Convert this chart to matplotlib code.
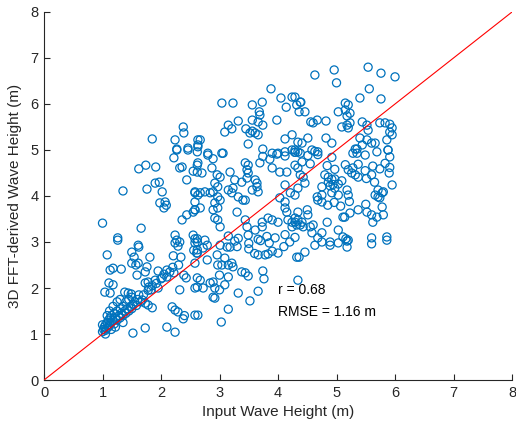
import numpy as np
import matplotlib
matplotlib.use("Agg")
import matplotlib.pyplot as plt

plt.rcParams["font.family"] = ["Liberation Sans", "DejaVu Sans"]

# points, grouped by region of the plot
# diagonal cluster near the 1:1 line
x_diag = [1.0, 1.02, 1.03, 1.05, 1.05, 1.07, 1.08, 1.1, 1.1, 1.12,
          1.13, 1.15, 1.15, 1.18, 1.2, 1.2, 1.22, 1.25, 1.25, 1.28,
          1.3, 1.3, 1.32, 1.35, 1.35, 1.38, 1.4, 1.4, 1.42, 1.45,
          1.45, 1.48, 1.5, 1.5, 1.52, 1.55, 1.58, 1.6, 1.62, 1.65,
          1.18, 1.25, 1.12, 1.3, 1.08, 1.0, 1.05, 1.15, 1.22, 1.35,
          1.7, 1.78, 1.85, 1.92, 2.0, 2.05, 2.15, 2.2, 2.3]
y_diag = [1.05, 1.1, 1.15, 1.08, 1.2, 1.12, 1.25, 1.15, 1.3, 1.2,
          1.35, 1.25, 1.4, 1.3, 1.22, 1.45, 1.35, 1.3, 1.5, 1.4,
          1.35, 1.55, 1.45, 1.4, 1.6, 1.5, 1.45, 1.7, 1.55, 1.5,
          1.75, 1.6, 1.55, 1.8, 1.65, 1.7, 1.62, 1.75, 1.85, 1.7,
          1.6, 1.7, 1.5, 1.75, 1.4, 1.2, 1.0, 1.1, 1.15, 1.25,
          1.85, 1.95, 2.05, 2.1, 2.2, 2.3, 2.35, 2.45, 2.5]

# lower left (x 1 - 2.6, y 1 - 3)
x_lowleft = [1.26, 1.62, 2.24, 2.29, 2.58, 1.08, 1.50, 1.54, 1.81, 2.21,
             2.34, 2.56, 2.61, 1.13, 1.18, 1.32, 1.50, 1.57, 1.61, 1.76,
             1.73, 1.59, 1.95, 2.10, 2.22, 2.39, 2.43, 2.58, 2.62, 2.62,
             1.11, 1.18, 1.04, 1.13, 1.38, 1.44, 1.49, 1.73, 1.78, 1.79,
             1.83, 1.90, 2.02, 2.10, 1.95, 2.32, 2.58, 1.68, 1.73, 1.78,
             1.85, 2.19, 2.24, 2.29, 2.38, 2.40, 2.58, 1.52, 1.73, 2.10,
             2.24]
y_lowleft = [3.04, 2.89, 2.98, 2.91, 2.98, 2.72, 2.78, 2.67, 2.67, 2.70,
             2.67, 2.82, 2.76, 2.39, 2.43, 2.41, 2.54, 2.50, 2.54, 2.46,
             2.35, 2.28, 2.37, 2.39, 2.33, 2.28, 2.22, 2.54, 2.22, 2.02,
             2.11, 2.07, 1.91, 1.89, 1.91, 1.89, 1.87, 2.11, 2.13, 2.02,
             1.96, 2.17, 2.22, 2.24, 2.00, 1.96, 2.00, 1.74, 1.67, 1.63,
             1.57, 1.59, 1.52, 1.48, 1.33, 1.40, 1.41, 1.02, 1.13, 1.15,
             1.04]

# lower middle (x 2.6 - 4.3, y 1.2 - 3)
x_lowmid = [2.79, 2.72, 2.62, 3.01, 3.13, 3.18, 3.26, 3.50, 3.70, 3.85,
            2.62, 2.79, 2.96, 2.97, 3.09, 3.04, 3.15, 3.21, 3.23, 3.66,
            3.78, 3.83, 4.00, 4.32, 3.00, 3.15, 3.38, 3.44, 3.49, 3.74,
            3.76, 2.67, 2.84, 2.89, 2.72, 2.92, 3.09, 3.00, 2.89, 2.92,
            3.32, 3.66, 3.52, 3.15, 2.63, 3.03,
            4.36, 4.46, 4.63, 4.75, 4.89, 5.03, 5.18, 5.18, 5.60, 5.86,
            4.34, 3.30, 3.50, 3.60, 3.90, 4.10, 4.20]
y_lowmid = [2.93, 2.87, 2.76, 2.93, 2.89, 2.89, 3.02, 2.97, 3.03, 2.98,
            2.83, 2.61, 2.72, 2.50, 2.65, 2.50, 2.50, 2.54, 2.46, 2.72,
            2.72, 2.74, 2.76, 2.67, 2.28, 2.24, 2.35, 2.33, 2.26, 2.37,
            2.20, 2.17, 2.11, 2.13, 2.00, 2.00, 2.07, 1.96, 1.80, 1.78,
            1.89, 1.93, 1.72, 1.54, 1.41, 1.26,
            2.67, 2.78, 2.93, 3.00, 2.93, 2.98, 2.89, 3.02, 2.96, 3.04,
            2.17, 2.90, 2.85, 2.75, 2.80, 2.90, 3.00]

# upper left (x 1 - 2.6, y 3 - 5)
x_upleft = [2.27, 2.46, 2.62, 2.22, 1.62, 1.74, 1.91, 2.32, 2.36, 2.55,
            2.62, 2.44, 1.35, 1.76, 1.90, 1.97, 2.02, 1.98, 2.07, 2.09,
            2.05, 2.58, 2.63, 2.58, 2.44, 2.55, 2.58, 2.36, 1.00, 1.66,
            1.26, 2.24, 2.27, 2.32, 2.55, 2.62, 1.61]
y_upleft = [5.00, 5.00, 4.96, 4.83, 4.59, 4.67, 4.63, 4.61, 4.63, 4.54,
            4.67, 4.35, 4.11, 4.15, 4.28, 4.30, 4.09, 3.85, 3.87, 3.80,
            3.74, 4.07, 4.02, 3.87, 3.59, 3.65, 3.70, 3.48, 3.41, 3.30,
            3.09, 3.15, 3.04, 3.00, 3.15, 3.07, 2.93]

# top band (y above 4.9)
x_top = [2.38, 2.39, 1.85, 2.24, 2.27, 2.46, 2.63, 2.63, 3.88, 3.04,
         3.23, 4.05, 4.24, 4.14, 4.32, 4.38, 3.56, 3.73, 3.68, 3.69,
         3.56, 3.66, 3.74, 3.98, 3.32, 3.15, 3.21, 3.09, 3.45, 3.56,
         3.61, 3.52, 3.66, 4.12, 4.24, 4.34, 2.67, 2.63, 2.80, 3.06,
         3.49, 3.74, 3.90, 4.00, 4.12, 4.24, 4.34,
         5.54, 5.76, 6.00, 4.63, 4.96, 5.00, 5.56, 5.40, 5.76, 4.29,
         4.39, 4.36, 4.46, 5.03, 5.15, 5.20, 5.15, 5.23, 5.18, 4.56,
         4.67, 4.60, 4.82, 5.09, 5.18, 5.20, 5.23, 5.44, 5.52, 5.74,
         5.83, 5.91, 5.95, 5.91, 5.95, 5.54, 5.52, 5.40, 5.44, 5.60,
         5.66, 5.86, 5.88, 4.41, 4.51, 4.82, 4.92, 4.58, 4.68, 5.32,
         5.35, 4.29, 4.38]
y_top = [5.50, 5.37, 5.24, 5.22, 5.02, 5.04, 5.07, 5.22, 6.33, 6.02,
         6.02, 6.13, 6.15, 5.93, 5.98, 6.04, 5.98, 6.04, 5.83, 5.76,
         5.65, 5.61, 5.54, 5.65, 5.63, 5.54, 5.46, 5.39, 5.46, 5.41,
         5.37, 5.37, 5.33, 5.24, 5.33, 5.17, 5.22, 5.11, 4.93, 4.93,
         5.13, 5.02, 4.93, 4.93, 4.96, 5.00, 4.96,
         6.80, 6.67, 6.59, 6.63, 6.74, 6.46, 6.33, 6.13, 6.11, 6.15,
         6.04, 5.83, 5.83, 5.83, 6.02, 5.98, 5.87, 5.80, 5.74, 5.61,
         5.65, 5.59, 5.63, 5.50, 5.54, 5.48, 5.59, 5.61, 5.54, 5.59,
         5.59, 5.56, 5.48, 5.39, 5.33, 5.43, 5.22, 5.26, 5.11, 5.15,
         5.15, 5.22, 5.00, 5.15, 5.26, 5.26, 5.15, 5.00, 4.96, 5.02,
         4.93, 5.00, 4.93]

# middle (x 2.6 - 4.4, y 3 - 4.9)
x_mid = [2.80, 2.89, 3.04, 3.74, 3.86, 3.98, 4.12, 4.29, 2.63, 2.70,
         2.62, 2.87, 2.96, 3.01, 3.18, 3.44, 3.49, 3.47, 3.49, 3.47,
         3.26, 3.38, 3.61, 3.64, 3.69, 3.90, 4.03, 4.15, 4.29, 4.34,
         2.92, 2.97, 2.58, 2.67, 2.75, 2.84, 2.89, 3.15, 3.23, 3.21,
         3.56, 3.66, 3.64, 4.12, 4.21, 4.29, 4.34, 2.97, 3.01, 2.92,
         2.97, 2.89, 2.58, 2.67, 3.32, 3.40, 3.44, 3.30, 4.03, 4.12,
         2.92, 2.97, 3.01, 3.44, 3.47, 3.73, 3.83, 3.90, 4.00, 4.12,
         4.15, 4.17, 4.24, 4.29, 4.32, 4.24, 3.73, 3.61, 3.15, 3.32,
         3.49, 3.66, 3.81, 3.95, 4.12, 4.29, 2.58, 2.75, 2.62]
y_mid = [4.89, 4.81, 4.93, 4.86, 4.80, 4.91, 4.87, 4.95, 4.72, 4.50,
         4.52, 4.61, 4.46, 4.41, 4.52, 4.72, 4.67, 4.57, 4.50, 4.39,
         4.35, 4.30, 4.35, 4.28, 4.72, 4.61, 4.52, 4.52, 4.67, 4.61,
         4.28, 4.20, 4.09, 4.07, 4.09, 4.07, 4.09, 4.13, 4.17, 4.07,
         4.13, 4.09, 4.20, 4.24, 4.07, 4.02, 4.17, 3.98, 3.91, 3.85,
         3.74, 3.70, 3.70, 3.74, 3.98, 3.91, 3.91, 3.65, 3.96, 3.87,
         3.52, 3.48, 3.33, 3.48, 3.33, 3.43, 3.52, 3.48, 3.43, 3.74,
         3.65, 3.48, 3.43, 3.43, 3.37, 3.33, 3.33, 3.26, 3.13, 3.08,
         3.15, 3.06, 3.12, 3.09, 3.16, 3.10, 3.07, 3.04, 3.00]

# right (x 4.3 - 6, y 3 - 5)
x_right = [4.29, 4.51, 4.63, 4.68, 4.92, 5.28, 5.35, 5.49, 5.69, 5.88,
           5.91, 4.41, 4.55, 4.84, 4.97, 5.15, 5.20, 5.28, 5.37, 5.49,
           5.62, 5.74, 5.83, 5.91, 4.38, 4.43, 4.46, 4.80, 4.86, 4.92,
           4.97, 4.86, 4.89, 4.94, 4.97, 5.03, 5.09, 5.26, 5.32, 5.37,
           5.51, 5.60, 5.95, 4.75, 4.75, 4.67, 4.68, 4.75, 4.92, 5.03,
           5.18, 5.20, 5.71, 5.78, 5.80, 5.66, 5.71, 5.74, 4.85, 4.96,
           5.07, 5.22, 5.50, 5.37, 5.52, 5.60, 5.69, 5.62, 5.80, 5.78,
           4.34, 4.29, 4.34, 4.38, 4.43, 4.55, 4.60, 4.50, 4.41, 4.51,
           4.84, 5.03, 5.11, 5.14, 5.23, 5.11, 5.16, 5.20, 4.89, 4.68,
           4.75, 4.58, 5.60, 5.86, 5.65, 5.90]
y_right = [4.95, 4.88, 4.97, 4.90, 4.84, 4.93, 5.02, 4.89, 4.96, 5.00,
           4.85, 4.74, 4.70, 4.66, 4.58, 4.68, 4.57, 4.61, 4.69, 4.55,
           4.65, 4.59, 4.71, 4.62, 4.46, 4.41, 4.28, 4.46, 4.41, 4.36,
           4.37, 4.30, 4.22, 4.25, 4.17, 4.26, 4.33, 4.50, 4.46, 4.41,
           4.38, 4.46, 4.24, 4.20, 4.02, 3.98, 3.91, 3.87, 4.07, 4.02,
           4.13, 4.02, 4.13, 4.07, 4.09, 4.02, 3.98, 3.96, 3.80, 3.86,
           3.78, 3.88, 3.82, 3.70, 3.65, 3.59, 3.54, 3.43, 3.59, 3.76,
           3.65, 3.52, 3.48, 3.37, 3.33, 3.33, 3.37, 3.70, 3.43, 3.59,
           3.43, 3.26, 3.54, 3.54, 3.63, 3.11, 3.07, 3.04, 3.00, 3.09,
           3.20, 3.20, 3.09, 3.11, 4.30, 4.50]

input_height = np.concatenate([x_diag, x_lowleft, x_lowmid, x_upleft, x_top, x_mid, x_right])
fft_height = np.concatenate([y_diag, y_lowleft, y_lowmid, y_upleft, y_top, y_mid, y_right])

one_to_one = [0, 8]
r_value = 0.68
rmse = 1.16

dark = "#262626"
fig = plt.figure(figsize=(5.16, 4.34), dpi=100)
ax = fig.add_axes([0.0853, 0.1244, 0.9070, 0.8480])

ax.scatter(input_height, fft_height, s=34, facecolors="none",
           edgecolors="#0072BD", linewidths=0.9, zorder=2)
ax.plot(one_to_one, one_to_one, color="red", linewidth=0.8, zorder=3)

ax.set_xlim(0, 8)
ax.set_ylim(0, 8)
ax.set_xticks(range(0, 9))
ax.set_yticks(range(0, 9))
ax.spines["top"].set_visible(False)
ax.spines["right"].set_visible(False)
for side in ("left", "bottom"):
    ax.spines[side].set_color(dark)
    ax.spines[side].set_linewidth(0.8)
ax.tick_params(direction="in", length=4, width=0.8, colors=dark,
               labelsize=10.5, pad=4)

ax.set_xlabel("Input Wave Height (m)", fontsize=11, color=dark, labelpad=4)
ax.set_ylabel("3D FFT-derived Wave Height (m)", fontsize=11, color=dark, labelpad=6)

ax.text(4.0, 1.96, f"r = {r_value:.2f}", fontsize=10, va="center", ha="left")
ax.text(4.0, 1.48, f"RMSE = {rmse:.2f} m", fontsize=10, va="center", ha="left")

fig.savefig("out.png", dpi=100)
